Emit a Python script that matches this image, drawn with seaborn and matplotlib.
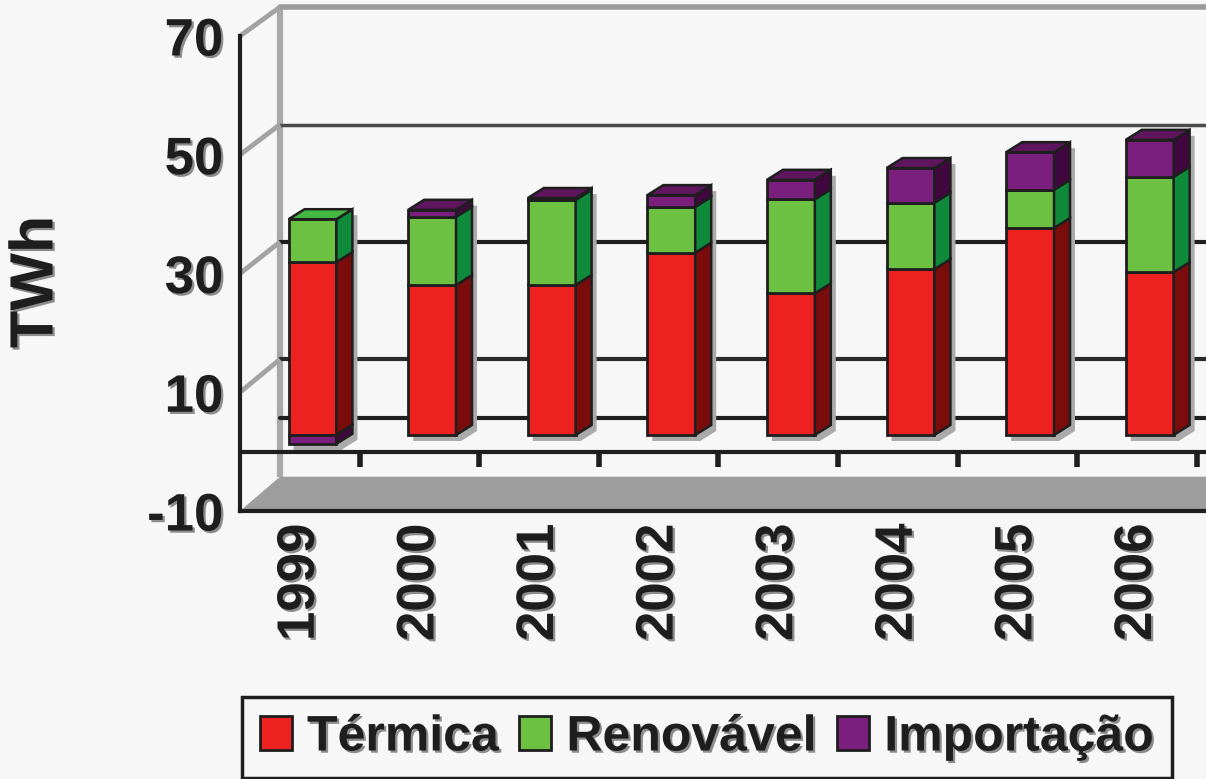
import numpy as np
import matplotlib
matplotlib.use("Agg")
import matplotlib.pyplot as plt
import matplotlib.patheffects as pe
from matplotlib.patches import Polygon, Patch
import seaborn as sns

# Electricity supply by source (TWh)
years = ["1999", "2000", "2001", "2002", "2003", "2004", "2005", "2006"]
termica = [29.4, 25.5, 25.5, 31.0, 24.1, 28.2, 35.2, 27.7]
renovavel = [7.3, 11.6, 14.5, 7.8, 16.0, 11.3, 6.5, 16.2]
importacao = [-1.5, 1.2, 0.3, 2.0, 3.3, 5.9, 6.4, 6.3]
series = ["Térmica", "Renovável", "Importação"]
y_ticks = [-10, 10, 30, 50, 70]
y_tick_labels = ["-10", "10", "30", "50", "70"]
y_label = "TWh"

BG = "#f7f7f7"
INK = "#1e1e1e"
front_colors = ["#ee2121", "#6cc143", "#7b1f7e"]
side_colors = ["#7a0c0c", "#0f8a3b", "#40083f"]
top_colors = ["#d01a1a", "#45b843", "#5f165f"]

sns.set_style("white")
plt.rcParams["font.family"] = ["Liberation Sans", "DejaVu Sans"]
plt.rcParams["axes.unicode_minus"] = False

W, H = 1206, 779
fig = plt.figure(figsize=(W / 100, H / 100), dpi=100, facecolor=BG)


def add_axes_px(left, bottom, width, top):
    # box given in pixels from the top-left corner of the canvas
    ax = fig.add_axes([left / W, 1 - bottom / H, width / W, (bottom - top) / H])
    ax.set_facecolor("none")
    return ax


XLIM = (-0.5, 7.577)
YLIM = (-10, 70)
SPAN = 966

# three planes of the pseudo-3D box: back wall, bar plane, front axis plane
ax_back = add_axes_px(280, 476.7, SPAN, 7.1)
ax_bar = add_axes_px(252.7, 493.8, SPAN, 23.4)
ax_front = add_axes_px(240, 511, SPAN, 36)

# ---- stacked bars (front faces) ----
ter = np.array(termica)
ren = np.array(renovavel)
imp = np.array(importacao)
layers = [
    (ter, np.zeros_like(ter)),
    (ren, ter),
    (imp, np.where(imp >= 0, ter + ren, 0.0)),
]
bar_groups = []
for (vals, base), fc in zip(layers, front_colors):
    n0 = len(ax_bar.patches)
    sns.barplot(x=years, y=vals, bottom=base, ax=ax_bar, color=fc,
                saturation=1, width=0.4, edgecolor=INK, linewidth=2, zorder=3)
    bar_groups.append(list(ax_bar.patches[n0:]))

for ax in (ax_back, ax_bar, ax_front):
    ax.set_xlim(XLIM)
    ax.set_ylim(YLIM)
ax_back.axis("off")
ax_bar.axis("off")

# ---- back wall ----
ax_back.plot([XLIM[0], XLIM[0]], YLIM, color="#a8a8a8", lw=4.5,
             solid_capstyle="butt", clip_on=False)
ax_back.plot([XLIM[0], XLIM[1] + 1], [70, 70], color="#9b9b9b", lw=4, clip_on=False)
for v, c, lw in [(50, "#4a4a4a", 2.5), (30, INK, 3), (10, "#2a2a2a", 3), (0, INK, 3)]:
    ax_back.plot([XLIM[0], XLIM[1] + 1], [v, v], color=c, lw=lw, clip_on=False)

# ---- 3D faces of the bars ----
px_x = SPAN / (XLIM[1] - XLIM[0])
px_y = (493.8 - 23.4) / (YLIM[1] - YLIM[0])
DX, DY = 16 / px_x, 10 / px_y
SX, SY = 5 / px_x, 6 / px_y

tops = ter + ren + np.clip(imp, 0, None)
bots = np.clip(imp, None, 0)

for rect, top, bot in zip(bar_groups[0], tops, bots):
    x, w = rect.get_x(), rect.get_width()
    outline = [(x, bot), (x + w, bot), (x + w + DX, bot + DY), (x + w + DX, top + DY),
               (x + DX, top + DY), (x, top)]
    ax_bar.add_patch(Polygon([(a + SX, b - SY) for a, b in outline], closed=True,
                             facecolor="#aaaaaa", edgecolor="none", zorder=1, clip_on=False))

for group, side_c in zip(bar_groups, side_colors):
    for rect in group:
        h = rect.get_height()
        if h == 0:
            continue
        x, w, y = rect.get_x(), rect.get_width(), rect.get_y()
        y0, y1 = min(y, y + h), max(y, y + h)
        ax_bar.add_patch(Polygon([(x + w, y0), (x + w + DX, y0 + DY), (x + w + DX, y1 + DY),
                                  (x + w, y1)], closed=True, facecolor=side_c,
                                 edgecolor=INK, lw=1.8, zorder=4, clip_on=False))

for j, rect in enumerate(bar_groups[0]):
    x, w = rect.get_x(), rect.get_width()
    top = tops[j]
    k = 2 if imp[j] > 0 else (1 if ren[j] > 0 else 0)
    ax_bar.add_patch(Polygon([(x, top), (x + DX, top + DY), (x + w + DX, top + DY),
                              (x + w, top)], closed=True, facecolor=top_colors[k],
                             edgecolor=INK, lw=1.8, zorder=4, clip_on=False))


# ---- front plane: floor, side wall, axes ----
def back_to_front(pts):
    disp = ax_back.transData.transform(pts)
    return ax_front.transData.inverted().transform(disp)


bl, br = back_to_front([(XLIM[0], -10), (XLIM[1] + 1, -10)])
ax_front.add_patch(Polygon([(XLIM[0], -10), tuple(bl), tuple(br), (XLIM[1] + 1, -10)],
                           closed=True, facecolor="#9d9d9d", edgecolor="none",
                           zorder=1, clip_on=False))
for v in y_ticks[1:]:
    bp = back_to_front([(XLIM[0], v)])[0]
    ax_front.plot([XLIM[0], bp[0]], [v, bp[1]], color="#a3a3a3", lw=3.5,
                  solid_capstyle="butt", clip_on=False, zorder=1)

ax_front.plot([XLIM[0], XLIM[1]], [0, 0], color=INK, lw=3, clip_on=False, zorder=2)
ax_front.vlines(np.arange(0.5, len(years)), 0, -15 / 5.9375, color=INK, lw=4, zorder=2)

for s in ("top", "right"):
    ax_front.spines[s].set_visible(False)
for s in ("left", "bottom"):
    ax_front.spines[s].set_linewidth(3)
    ax_front.spines[s].set_color(INK)

ax_front.set_yticks(y_ticks, y_tick_labels)
ax_front.set_xticks(range(len(years)), years, rotation=90)
ax_front.set_xticks(np.arange(-0.5, len(years)), minor=True)
ax_front.tick_params(axis="x", which="major", length=0, pad=9, labelsize=38, labelcolor=INK)
ax_front.tick_params(axis="x", which="minor", length=14, width=4, color=INK, direction="out")
ax_front.tick_params(axis="y", length=8, width=3, color=INK, pad=4, labelsize=38,
                     labelcolor=INK)

shadow = [pe.SimplePatchShadow(offset=(1.6, -1.6), shadow_rgbFace="#8c8c8c", alpha=1.0),
          pe.Normal()]
for lbl in ax_front.get_xticklabels() + ax_front.get_yticklabels():
    lbl.set_fontweight("bold")
    lbl.set_path_effects(shadow)

fig.text(37 / W, 1 - 282 / H, y_label, rotation=90, ha="center", va="center",
         fontsize=44, fontweight="bold", color=INK, path_effects=shadow)

# ---- legend ----
handles = [Patch(facecolor=c, edgecolor=INK, linewidth=2) for c in front_colors]
leg = fig.legend(handles, series, loc="upper left", bbox_to_anchor=(242 / W, 1 - 697 / H),
                 ncol=3, prop=dict(weight="bold", size=36), handlelength=0.65,
                 handleheight=0.65, handletextpad=0.3, columnspacing=0.4, borderpad=0.35,
                 frameon=True, fancybox=False, edgecolor=INK, facecolor=BG, framealpha=1,
                 borderaxespad=0)
leg.get_frame().set_linewidth(2.5)
for t in leg.get_texts():
    t.set_color(INK)
    t.set_path_effects(shadow)

fig.savefig("out.png", dpi=100, facecolor=BG)
